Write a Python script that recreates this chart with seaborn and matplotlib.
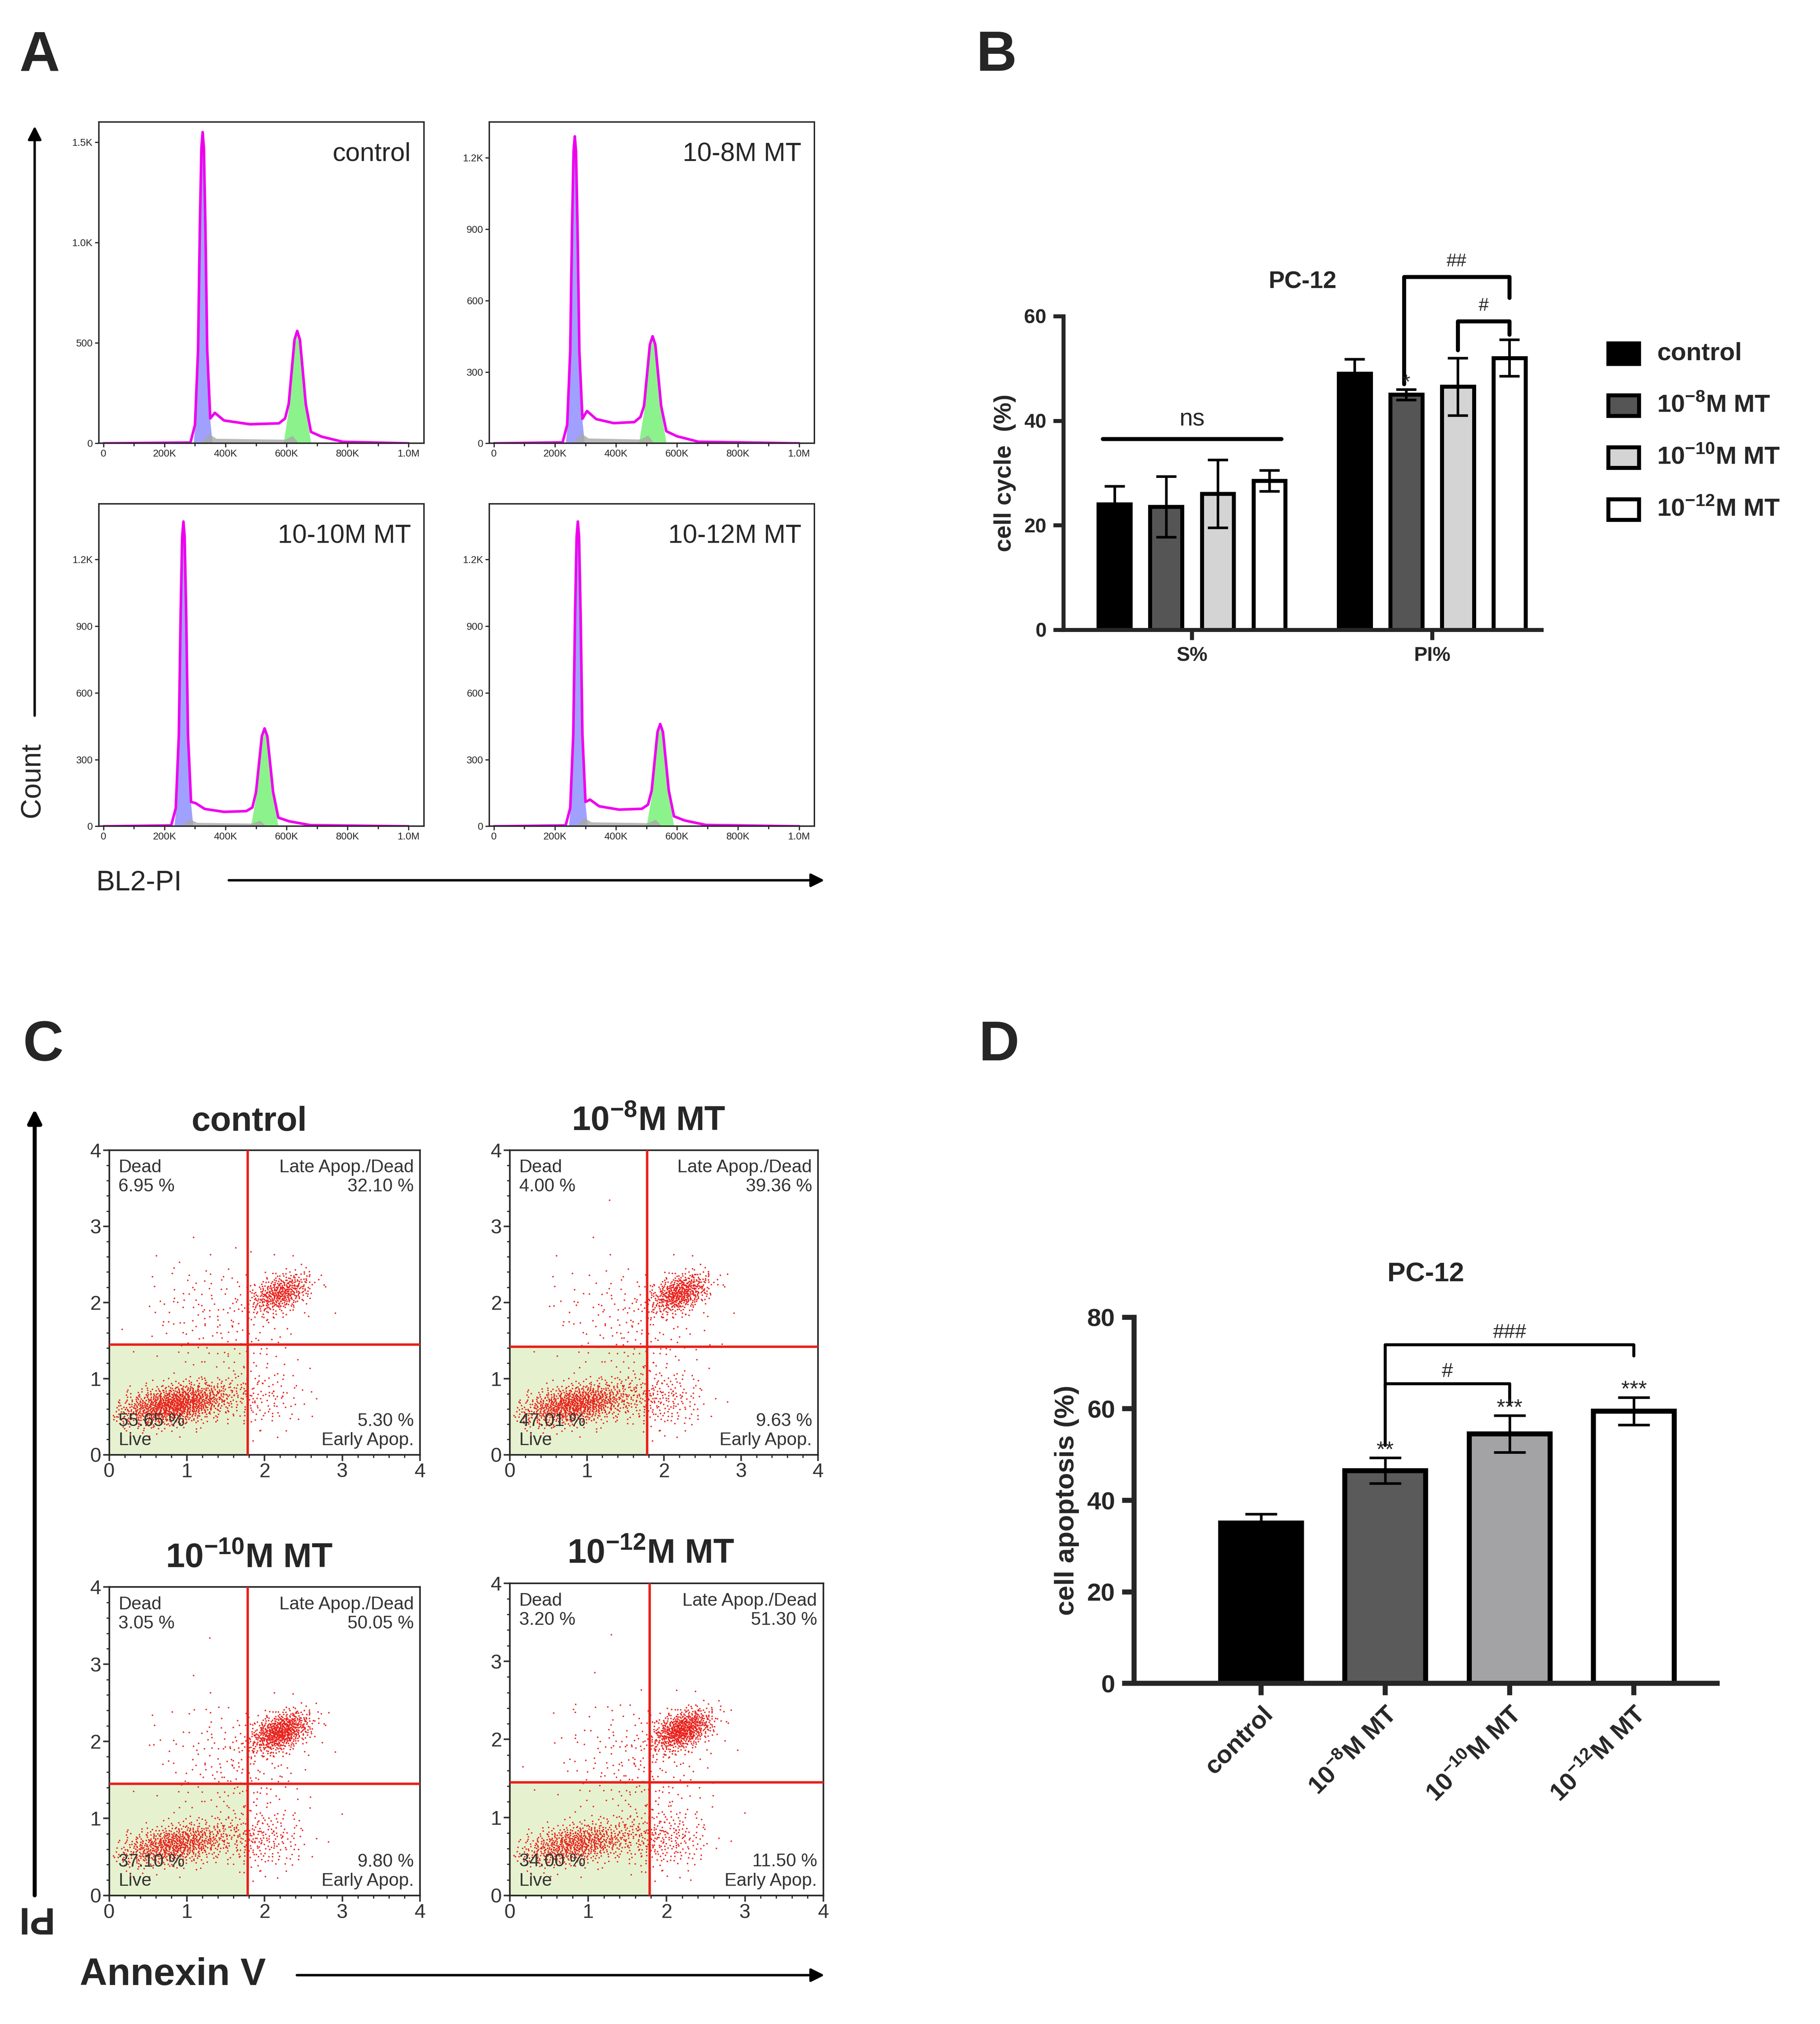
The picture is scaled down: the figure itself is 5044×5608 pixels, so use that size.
import numpy as np
import pandas as pd
import matplotlib
matplotlib.use("Agg")
import matplotlib.pyplot as plt
import seaborn as sns
from matplotlib.patches import FancyArrowPatch, Rectangle

sns.set_theme(style="ticks")
plt.rcParams['font.family'] = ['Liberation Sans', 'DejaVu Sans']
plt.rcParams['mathtext.fontset'] = 'custom'
plt.rcParams['mathtext.rm'] = 'Liberation Sans'
plt.rcParams['mathtext.bf'] = 'Liberation Sans:bold'

# ---------------- data ----------------
# A: cell cycle histograms (peak positions in K, peak heights in counts)
hist_titles = ["control", "10-8M MT", "10-10M MT", "10-12M MT"]
g1_pos = [325, 265, 262, 275]
g1_height = [1550, 1290, 1370, 1370]
g2_pos = [635, 520, 528, 545]
g2_height = [560, 450, 440, 460]
plateau = [95, 85, 65, 75]
y_max = [1600, 1350, 1450, 1450]
y_ticks = [[0, 500, 1000, 1500], [0, 300, 600, 900, 1200],
           [0, 300, 600, 900, 1200], [0, 300, 600, 900, 1200]]
y_ticklabels = [["0", "500", "1.0K", "1.5K"], ["0", "300", "600", "900", "1.2K"],
                ["0", "300", "600", "900", "1.2K"], ["0", "300", "600", "900", "1.2K"]]

# B: cell cycle bars
cycle_phase = ["S%", "PI%"]
groups = ["control", "10-8", "10-10", "10-12"]
cycle_S = [24.0, 23.5, 26.0, 28.5]
cycle_S_err = [3.5, 5.8, 6.5, 2.0]
cycle_PI = [49.0, 45.0, 46.5, 52.0]
cycle_PI_err = [2.8, 1.0, 5.5, 3.5]
colors_B = ["#000000", "#555555", "#d4d4d4", "#ffffff"]

# C: annexin V / PI quadrants
dot_titles = ["control", r"10$^{\mathbf{-8}}$M MT", r"10$^{\mathbf{-10}}$M MT", r"10$^{\mathbf{-12}}$M MT"]
q_dead = [6.95, 4.00, 3.05, 3.20]
q_late = [32.10, 39.36, 50.05, 51.30]
q_live = [55.65, 47.01, 37.10, 34.00]
q_early = [5.30, 9.63, 9.80, 11.50]
gate_x = [1.78, 1.78, 1.78, 1.78]
gate_y = [1.45, 1.42, 1.45, 1.45]

# D: apoptosis bars
apop_labels = ["control", r"10$^{\mathbf{-8}}$M MT", r"10$^{\mathbf{-10}}$M MT", r"10$^{\mathbf{-12}}$M MT"]
apop_vals = [35.0, 46.5, 54.5, 59.5]
apop_err = [2.0, 2.8, 4.0, 3.0]
colors_D = ["#000000", "#5a5a5a", "#a2a2a6", "#ffffff"]

W, H = 1417.0, 1575.0
fig = plt.figure(figsize=(5044 / 400, 5608 / 400), dpi=400)


def rect(x1, y1, x2, y2):
    return [x1 / W, 1 - y2 / H, (x2 - x1) / W, (y2 - y1) / H]


ov = fig.add_axes([0, 0, 1, 1], zorder=-5)
ov.set_xlim(0, W)
ov.set_ylim(H, 0)
ov.axis("off")

for lab, x, y in [("A", 15, 55), ("B", 760, 55), ("C", 18, 825), ("D", 762, 825)]:
    ov.text(x, y, lab, fontsize=28, fontweight="bold", va="baseline")


def arrow(x1, y1, x2, y2, lw=1.2):
    ov.add_patch(FancyArrowPatch((x1, y1), (x2, y2), arrowstyle="-|>", mutation_scale=14,
                                 color="black", lw=lw))


# ---------------- A ----------------
hist_rects = [(77, 95, 330, 345), (381, 95, 634, 345), (77, 392, 330, 643), (381, 392, 634, 643)]
for i, r in enumerate(hist_rects):
    ax = fig.add_axes(rect(*r))
    g1, h1, g2, h2, pl = g1_pos[i], g1_height[i], g2_pos[i], g2_height[i], plateau[i]
    xs = [0, g1 - 40, g1 - 25, g1 - 15, g1 - 9, g1 - 4, g1, g1 + 4, g1 + 9, g1 + 15, g1 + 25, g1 + 40,
          g1 + 70, (g1 + g2) / 2, g2 - 60, g2 - 40, g2 - 28, g2 - 18, g2 - 9, g2, g2 + 9, g2 + 18,
          g2 + 28, g2 + 45, g2 + 80, g2 + 150, 1000]
    ys = [0, 4, 0.06 * h1, 0.3 * h1, 0.7 * h1, 0.95 * h1, h1, 0.95 * h1, 0.7 * h1, 0.3 * h1, 0.08 * h1,
          1.6 * pl, 1.2 * pl, pl, 1.05 * pl, 1.3 * pl, 0.35 * h2, 0.65 * h2, 0.92 * h2, h2, 0.92 * h2,
          0.65 * h2, 0.35 * h2, 0.6 * pl, 0.35 * pl, 0.08 * pl, 0]
    bx = [g1 - 30, g1 - 25, g1 - 15, g1 - 9, g1 - 4, g1, g1 + 4, g1 + 9, g1 + 15, g1 + 25, g1 + 32]
    by = [0, 0.05 * h1, 0.29 * h1, 0.69 * h1, 0.94 * h1, 0.99 * h1, 0.94 * h1, 0.69 * h1, 0.29 * h1, 0.07 * h1, 0]
    gx = [g2 - 45, g2 - 28, g2 - 18, g2 - 9, g2, g2 + 9, g2 + 18, g2 + 28, g2 + 45]
    gy = [0, 0.3 * h2, 0.6 * h2, 0.88 * h2, 0.96 * h2, 0.88 * h2, 0.6 * h2, 0.3 * h2, 0]
    ax.fill_between(bx, by, color="#8080ff", alpha=0.75, lw=0)
    ax.fill_between(gx, gy, color="#66ee66", alpha=0.75, lw=0)
    ax.fill_between([g1 - 8, g1 + 20, g1 + 45, g2 - 40, g2 - 15, g2 + 5], [0, 0.5 * pl, 0.25 * pl, 0.2 * pl, 0.4 * pl, 0],
                    color="#a8a8a8", alpha=0.8, lw=0)
    ax.plot(xs, ys, color="black", lw=1.0)
    ax.plot(xs, ys, color="#ee00ee", lw=1.3)
    ax.set_xlim(-15, 1050)
    ax.set_ylim(0, y_max[i])
    ax.set_xticks([0, 200, 400, 600, 800, 1000])
    ax.set_xticklabels(["0", "200K", "400K", "600K", "800K", "1.0M"])
    ax.set_xticks(np.arange(100, 1100, 200), minor=True)
    ax.set_yticks(y_ticks[i])
    ax.set_yticklabels(y_ticklabels[i])
    ax.tick_params(labelsize=5, length=2, width=0.6, pad=1)
    ax.tick_params(which="minor", length=1.5, width=0.6)
    for s in ax.spines.values():
        s.set_linewidth(0.7)
        s.set_visible(True)
    ax.text(0.96, 0.88, hist_titles[i], transform=ax.transAxes, ha="right", fontsize=13)

arrow(27, 560, 27, 95)
ov.text(25, 607, "Count", rotation=90, fontsize=14, ha="center", va="center")
arrow(175, 685, 645, 685)
ov.text(75, 687, "BL2-PI", fontsize=14, va="center")

# ---------------- B ----------------
axB = fig.add_axes(rect(828, 246, 1200, 490))
dfB = pd.DataFrame({"phase": np.repeat(cycle_phase, 4), "group": groups * 2,
                    "value": cycle_S + cycle_PI})
sns.barplot(data=dfB, x="phase", y="value", hue="group", palette=colors_B, ax=axB,
            errorbar=None, width=0.86, gap=0.38, edgecolor="black", linewidth=2, legend=False)
errsB = [cycle_S_err, cycle_PI_err]
valsB = [cycle_S, cycle_PI]
centersB = {}
for k, cont in enumerate(list(axB.containers)):
    for j, bar in enumerate(cont):
        centersB[(j, k)] = bar.get_x() + bar.get_width() / 2
for (j, k), cx in centersB.items():
    axB.errorbar(cx, valsB[j][k], yerr=errsB[j][k], color="black", capsize=5, lw=1.3, capthick=1.3)
axB.set_xlim(-0.535, 1.455)
axB.set_ylim(0, 60)
axB.set_yticks([0, 20, 40, 60])
axB.set_xlabel("")
axB.set_ylabel("cell cycle  (%)", fontsize=12, fontweight="bold")
axB.set_title("PC-12", fontsize=12, fontweight="bold", pad=14)
sns.despine(ax=axB)
for s in ["left", "bottom"]:
    axB.spines[s].set_linewidth(2)
axB.tick_params(width=2, length=5, labelsize=10)
for t in axB.get_xticklabels() + axB.get_yticklabels():
    t.set_fontweight("bold")
axB.plot([centersB[(0, 0)] - 0.05, centersB[(0, 3)] + 0.05], [36.5, 36.5], color="black", lw=2, clip_on=False)
axB.text((centersB[(0, 0)] + centersB[(0, 3)]) / 2, 39, "ns", ha="center", fontsize=12)
axB.text(centersB[(1, 1)], 46.2, "*", ha="center", fontsize=10)
x1, x3 = centersB[(1, 1)] - 0.01, centersB[(1, 3)]
axB.plot([x1, x1, x3, x3], [47, 67.5, 67.5, 63.5], color="black", lw=2, clip_on=False)
axB.text((x1 + x3) / 2, 69.5, "##", ha="center", fontsize=9)
x2 = centersB[(1, 2)]
axB.plot([x2, x2, x3, x3], [53.5, 59, 59, 56.5], color="black", lw=2, clip_on=False)
axB.text((x2 + x3) / 2, 61, "#", ha="center", fontsize=9)
leg_labels = ["control", r"10$^{\mathbf{-8}}$M MT", r"10$^{\mathbf{-10}}$M MT", r"10$^{\mathbf{-12}}$M MT"]
for k in range(4):
    yy = 275 + k * 40.5
    ov.add_patch(Rectangle((1252, yy - 8), 24, 16, facecolor=colors_B[k], edgecolor="black", lw=2))
    ov.text(1290, yy, leg_labels[k], fontsize=12.5, fontweight="bold", va="center")

# ---------------- C ----------------


def halton(n, base, start):
    out = np.zeros(n)
    for i in range(n):
        f, r, k = 1.0, 0.0, i + start
        while k > 0:
            f /= base
            r += f * (k % base)
            k //= base
        out[i] = r
    return out


def cloud(n, cx, cy, sx, sy, start, tilt=0.0):
    u1 = np.clip(halton(n, 2, start), 1e-4, 1)
    u2 = halton(n, 3, start)
    rr = np.sqrt(-2 * np.log(u1))
    zx, zy = rr * np.cos(2 * np.pi * u2), rr * np.sin(2 * np.pi * u2)
    return cx + sx * zx, cy + sy * zy + tilt * sx * zx


dot_rects = [(85, 895, 327, 1132), (397, 895, 637, 1132), (85, 1235, 327, 1475), (397, 1232, 641, 1475)]
for i, r in enumerate(dot_rects):
    ax = fig.add_axes(rect(*r))
    gx0, gy0 = gate_x[i], gate_y[i]
    ax.add_patch(Rectangle((0, 0), gx0, gy0, facecolor="#e6f2cf", edgecolor="none", zorder=0))
    pts = [cloud(int(q_live[i] * 22), 0.85, 0.66, 0.38, 0.13, 1 + i * 7, 0.15),
           cloud(int(q_late[i] * 14), 2.2, 2.12, 0.2, 0.12, 3000 + i * 11, 0.3),
           cloud(int(q_late[i] * 4), 1.7, 1.6, 0.45, 0.45, 6000 + i * 5),
           cloud(int(q_early[i] * 22), 1.95, 0.72, 0.3, 0.2, 9000 + i * 3),
           cloud(int(q_dead[i] * 10), 1.1, 1.95, 0.35, 0.35, 12000 + i * 13)]
    for px, py in pts:
        m = (px > 0.05) & (px < 3.95) & (py > 0.05) & (py < 3.95)
        ax.scatter(px[m], py[m], s=0.6, color="#e8201a", lw=0, zorder=2)
    ax.axvline(gx0, color="#e8201a", lw=1.2, zorder=3)
    ax.axhline(gy0, color="#e8201a", lw=1.2, zorder=3)
    ax.set_xlim(0, 4)
    ax.set_ylim(0, 4)
    ax.set_xticks([0, 1, 2, 3, 4])
    ax.set_yticks([0, 1, 2, 3, 4])
    ax.set_xticks(np.arange(0, 4.01, 0.2), minor=True)
    ax.set_yticks(np.arange(0, 4.01, 0.2), minor=True)
    ax.tick_params(labelsize=10, length=3, width=0.8, pad=1, colors="#333333")
    ax.tick_params(which="minor", length=1.5, width=0.6)
    for s in ax.spines.values():
        s.set_linewidth(0.8)
        s.set_visible(True)
    fs = 9
    ax.text(0.03, 0.97, "Dead\n%.2f %%" % q_dead[i], transform=ax.transAxes, va="top", fontsize=fs, color="#333333")
    ax.text(0.98, 0.97, "Late Apop./Dead\n%.2f %%" % q_late[i], transform=ax.transAxes, va="top",
            ha="right", fontsize=fs, color="#333333", multialignment="right")
    ax.text(0.03, 0.02, "%.2f %%\nLive" % q_live[i], transform=ax.transAxes, va="bottom", fontsize=fs, color="#333333")
    ax.text(0.98, 0.02, "%.2f %%\nEarly Apop." % q_early[i], transform=ax.transAxes, va="bottom",
            ha="right", fontsize=fs, color="#333333", multialignment="right")
    ax.text(0.45, 1.04, dot_titles[i], transform=ax.transAxes, ha="center", va="bottom",
            fontsize=17, fontweight="bold")

arrow(27, 1478, 27, 860, lw=2)
ov.text(25, 1492, "PI", rotation=180, fontsize=19, ha="center", va="center", fontweight="bold")
arrow(228, 1537, 645, 1537)
ov.text(62, 1537, "Annexin V", fontsize=19, va="center", fontweight="bold")

# ---------------- D ----------------
axD = fig.add_axes(rect(883, 1025, 1337, 1310))
dfD = pd.DataFrame({"group": apop_labels, "value": apop_vals})
sns.barplot(data=dfD, x="group", y="value", hue="group", palette=colors_D, ax=axD,
            errorbar=None, width=0.65, edgecolor="black", linewidth=2.5, legend=False)
centersD = [b.get_x() + b.get_width() / 2 for c in list(axD.containers) for b in c]
for j in range(4):
    axD.errorbar(centersD[j], apop_vals[j], yerr=apop_err[j], color="black", capsize=8, lw=1.3, capthick=1.3)
axD.set_xlim(-1.02, 3.67)
axD.set_ylim(0, 80)
axD.set_yticks([0, 20, 40, 60, 80])
axD.set_xlabel("")
axD.set_ylabel("cell apoptosis (%)", fontsize=13.5, fontweight="bold")
axD.set_title("PC-12", fontsize=13.5, fontweight="bold", pad=18)
sns.despine(ax=axD)
for s in ["left", "bottom"]:
    axD.spines[s].set_linewidth(2.5)
axD.tick_params(width=2.5, length=6, labelsize=12.5)
axD.set_xticks(range(4))
axD.set_xticklabels(apop_labels, rotation=45, ha="right", rotation_mode="anchor")
for t in axD.get_xticklabels() + axD.get_yticklabels():
    t.set_fontweight("bold")
for j, star in [(1, "**"), (2, "***"), (3, "***")]:
    axD.text(centersD[j], apop_vals[j] + apop_err[j] + 0.3, star, ha="center", fontsize=11)
axD.plot([centersD[1], centersD[1], centersD[3], centersD[3]], [64.5, 74, 74, 71.5], color="black", lw=1.5, clip_on=False)
axD.text((centersD[1] + centersD[3]) / 2, 75.5, "###", ha="center", fontsize=10)
axD.plot([centersD[1], centersD[1], centersD[2], centersD[2]], [52, 65.5, 65.5, 61], color="black", lw=1.5)
axD.text((centersD[1] + centersD[2]) / 2, 67, "#", ha="center", fontsize=10)

fig.savefig("out.png", dpi=400, facecolor="white")
